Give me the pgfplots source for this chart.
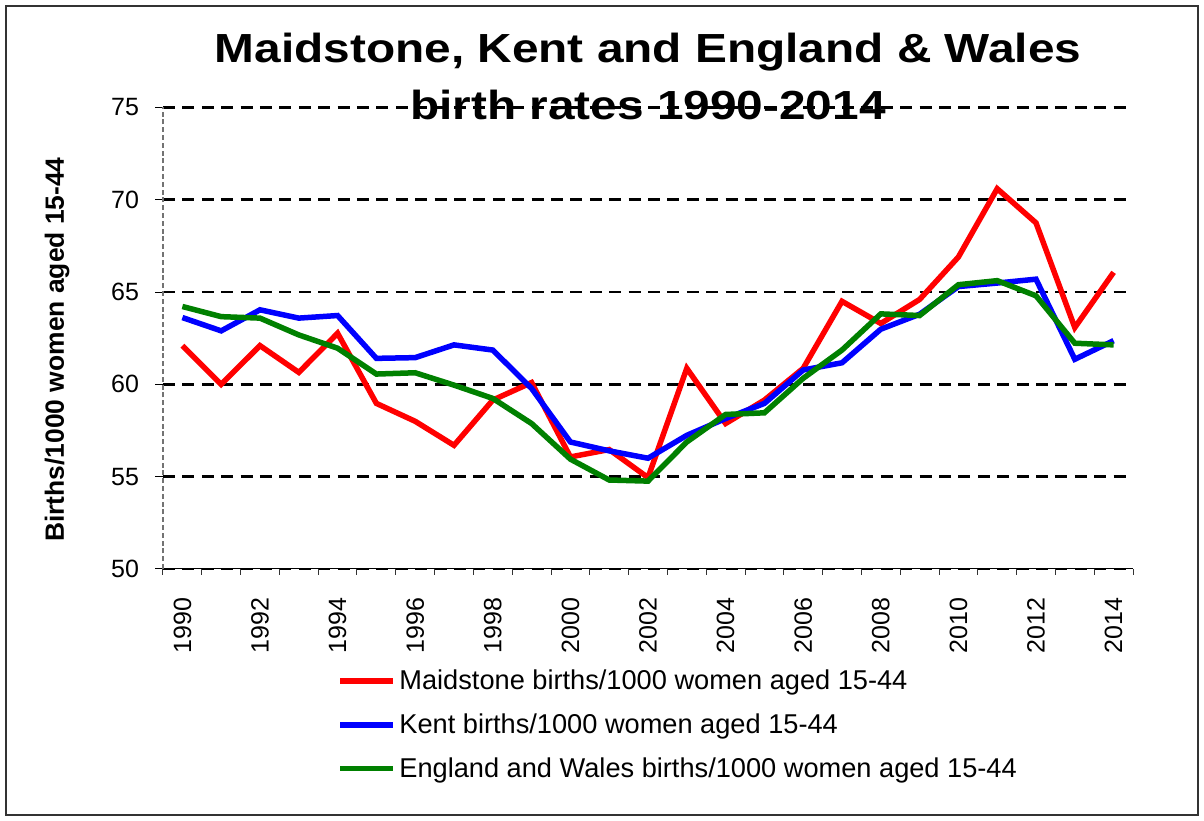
\documentclass[border=0pt]{standalone}
\usepackage{pgfplots}
\pgfplotsset{compat=1.18}
\usepackage{fontspec}
\usepackage{graphicx}
\setmainfont{Liberation Sans}
\definecolor{mred}{RGB}{255,0,0}
\definecolor{mblue}{RGB}{0,0,255}
\definecolor{mgreen}{RGB}{0,128,0}
\begin{document}
\begin{tikzpicture}
\begin{axis}[
  scale only axis,
  width=485pt, height=230.75pt,
  xmin=1989.5, xmax=2014.5,
  ymin=50, ymax=75,
  clip=false,
  axis x line*=bottom, axis y line*=left,
  x axis line style={black, line width=0.5pt},
  y axis line style={black!55, dash pattern=on 2.5pt off 1.4pt, line width=0.7pt},
  tick align=outside,
  xtick={1990,1992,...,2014},
  major x tick style={draw=none},
  minor xtick={1989.5,1990.5,...,2014.5},
  minor x tick style={black!80, line width=0.5pt},
  minor tick length=3pt,
  ytick={50,55,...,75},
  major y tick style={black, line width=0.5pt},
  major tick length=4pt,
  ymajorgrids,
  major grid style={black, line width=1.3pt, dash pattern=on 6pt off 3.7pt},
  /pgf/number format/.cd, 1000 sep={}, assume math mode=true,
  /pgfplots/.cd,
  xticklabel style={rotate=90, anchor=east, font=\fontsize{12.5}{14}\selectfont},
  yticklabel style={font=\fontsize{12.5}{14}\selectfont},
  xticklabel shift=7pt,
  yticklabel shift=4.5pt,
  ylabel={Births/1000 women aged 15-44},
  ylabel style={font=\bfseries\fontsize{13.2}{15}\selectfont, at={([xshift=-53pt]axis description cs:0,0.4756)}, anchor=center},
  legend style={at={(rel axis cs:0,0)}, anchor=north west, xshift=87pt, yshift=-48.5pt, draw=none, fill=none, inner sep=0pt, font=\fontsize{13.6}{16}\selectfont, row sep=7pt, nodes={inner sep=1.75pt}},
  legend cell align=left,
  legend image code/.code={\draw[#1] (0pt,0pt) -- (26.5pt,0pt);},
  every axis plot/.append style={line width=2.75pt, line join=miter}
]
\addplot[mred] coordinates {
(1990,62.1) (1991,60.0) (1992,62.1) (1993,60.65) (1994,62.77) (1995,58.97) (1996,58.0) (1997,56.7) (1998,59.15) (1999,60.1)
(2000,56.07) (2001,56.47) (2002,54.95) (2003,60.87) (2004,57.88) (2005,59.15) (2006,60.87) (2007,64.5) (2008,63.3) (2009,64.6)
(2010,66.9) (2011,70.6) (2012,68.75) (2013,63.08) (2014,66.07)};
\addlegendentry{Maidstone births/1000 women aged 15-44}
\addplot[mblue] coordinates {
(1990,63.62) (1991,62.9) (1992,64.04) (1993,63.59) (1994,63.73) (1995,61.41) (1996,61.45) (1997,62.14) (1998,61.86) (1999,59.78)
(2000,56.88) (2001,56.4) (2002,56.0) (2003,57.24) (2004,58.15) (2005,58.97) (2006,60.78) (2007,61.17) (2008,62.99) (2009,63.8)
(2010,65.3) (2011,65.49) (2012,65.7) (2013,61.36) (2014,62.37)};
\addlegendentry{Kent births/1000 women aged 15-44}
\addplot[mgreen] coordinates {
(1990,64.22) (1991,63.67) (1992,63.59) (1993,62.68) (1994,61.96) (1995,60.56) (1996,60.63) (1997,59.96) (1998,59.24) (1999,57.88)
(2000,55.95) (2001,54.82) (2002,54.76) (2003,56.88) (2004,58.37) (2005,58.46) (2006,60.33) (2007,61.86) (2008,63.82) (2009,63.73)
(2010,65.4) (2011,65.62) (2012,64.8) (2013,62.23) (2014,62.14)};
\addlegendentry{England and Wales births/1000 women aged 15-44}
\node[anchor=base, font=\bfseries\fontsize{23.9}{28}\selectfont] at ([yshift=22.25pt]rel axis cs:0.5,1) {\scalebox{1}[0.85]{Maidstone, Kent and England \& Wales}};
\node[anchor=base, font=\bfseries\fontsize{23.9}{28}\selectfont] at ([yshift=-6.25pt]rel axis cs:0.5,1) {\scalebox{1}[0.85]{birth rates 1990-2014}};
\draw[line width=0.6pt, black!80] ([xshift=-78.5pt,yshift=-123pt]rel axis cs:0,0) rectangle ([xshift=32.5pt,yshift=50.75pt]rel axis cs:1,1);
\path ([xshift=-81.5pt,yshift=-126pt]rel axis cs:0,0) rectangle ([xshift=35.5pt,yshift=53.75pt]rel axis cs:1,1);
\end{axis}
\end{tikzpicture}
\end{document}
